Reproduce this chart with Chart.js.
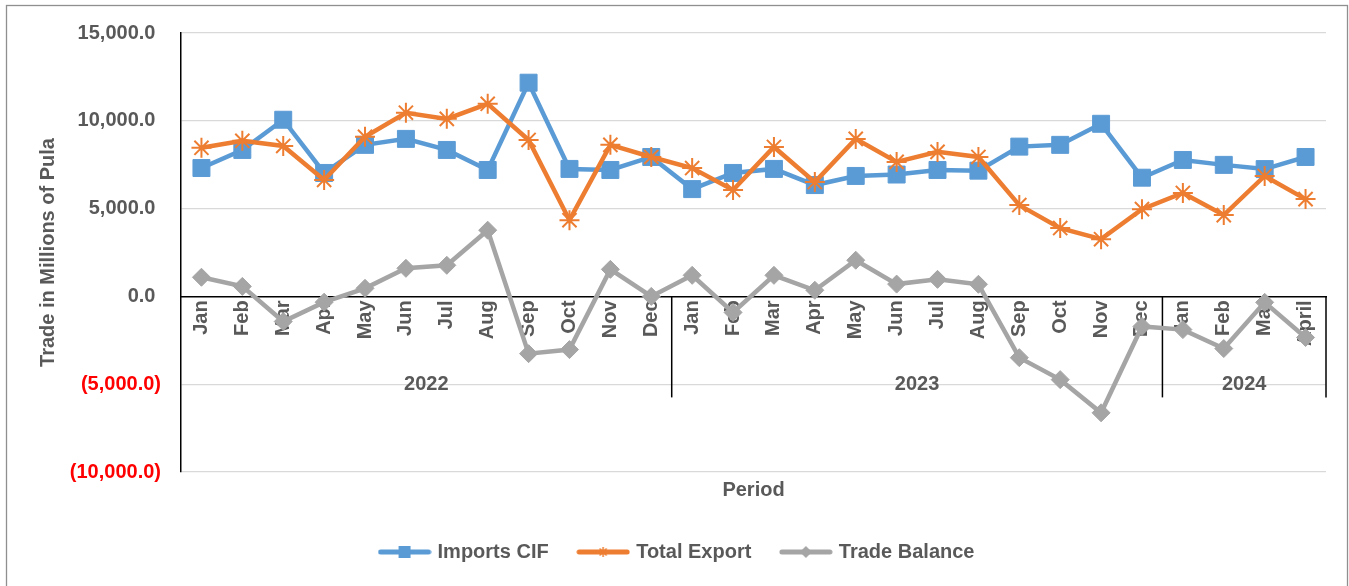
<!DOCTYPE html>
<html>
<head>
<meta charset="utf-8">
<script src="https://cdn.jsdelivr.net/npm/chart.js@4.4.1/dist/chart.umd.min.js"></script>
<style>
  html, body { margin: 0; padding: 0; background: #ffffff; }
  #wrap { width: 1349px; height: 586px; }
</style>
</head>
<body>
<div id="wrap"><canvas id="c" width="1349" height="586"></canvas></div>
<script>
// ---- Data ----
const months = ['Jan','Feb','Mar','Apr','May','Jun','Jul','Aug','Sep','Oct','Nov','Dec',
                'Jan','Feb','Mar','Apr','May','Jun','Jul','Aug','Sep','Oct','Nov','Dec',
                'Jan','Feb','Mar','April'];
const yearLabels = ['2022', '2023', '2024'];
const yearCounts = [12, 12, 4];
const importsCIF = [7310, 8340, 10060, 7030, 8630, 8970, 8340, 7200, 12170, 7260, 7200, 7940,
                    6110, 7030, 7260, 6340, 6860, 6940, 7200, 7160, 8530, 8630, 9830, 6760,
                    7770, 7490, 7250, 7940];
const totalExport = [8460, 8860, 8570, 6630, 9090, 10460, 10110, 10970, 8910, 4340, 8630, 7940,
                     7310, 6060, 8510, 6510, 8970, 7660, 8230, 7940, 5200, 3890, 3260, 4970,
                     5890, 4630, 6860, 5540];
const tradeBalance = [1090, 570, -1430, -330, 460, 1600, 1770, 3770, -3260, -3030, 1540, 0,
                      1200, -910, 1200, 350, 2060, 700, 970, 690, -3490, -4740, -6630, -1710,
                      -1890, -2970, -340, -2340];
const yTicks = [-10000, -5000, 0, 5000, 10000, 15000];

// ---- Styles ----
const FONT = "'Liberation Sans', Arial, sans-serif";
const TXT = '#595959';
const BLUE = '#5B9BD5', ORANGE = '#ED7D31', GREY = '#A5A5A5';

function fmt(v) {
  const s = Math.abs(v).toLocaleString('en-US', {minimumFractionDigits: 1, maximumFractionDigits: 1});
  return v < 0 ? '(' + s + ')' : s + ' ';
}

function legendIcon(color, kind) {
  const cv = document.createElement('canvas');
  cv.width = 54; cv.height = 20;
  const g = cv.getContext('2d');
  g.strokeStyle = color; g.lineWidth = 5; g.lineCap = 'round';
  g.beginPath(); g.moveTo(3, 10); g.lineTo(51, 10); g.stroke();
  g.fillStyle = color;
  if (kind === 'rect') {
    g.fillRect(21, 4, 12, 12);
  } else if (kind === 'star') {
    g.lineWidth = 1.5; g.lineCap = 'butt';
    g.beginPath();
    g.moveTo(27, 5); g.lineTo(27, 15);
    g.moveTo(23.5, 6.5); g.lineTo(30.5, 13.5);
    g.moveTo(30.5, 6.5); g.lineTo(23.5, 13.5);
    g.stroke();
  } else if (kind === 'diamond') {
    g.beginPath(); g.moveTo(27, 4); g.lineTo(33, 10); g.lineTo(27, 16); g.lineTo(21, 10); g.closePath(); g.fill();
  }
  return cv;
}
const legendIcons = [legendIcon(BLUE, 'rect'), legendIcon(ORANGE, 'star'), legendIcon(GREY, 'diamond')];

const framePlugin = {
  id: 'frame',
  beforeDraw(chart) {
    const ctx = chart.ctx;
    ctx.save();
    ctx.fillStyle = '#ffffff';
    ctx.fillRect(0, 0, chart.width, chart.height);
    ctx.strokeStyle = '#8f8f8f';
    ctx.lineWidth = 1.3;
    ctx.strokeRect(6.5, 5.5, 1341, 640);
    ctx.restore();
  }
};

const yearPlugin = {
  id: 'years',
  beforeDatasetsDraw(chart) {
    const xs = chart.scales.x, ys = chart.scales.y, ctx = chart.ctx;
    const y0 = ys.getPixelForValue(0);
    const half = (xs.getPixelForValue(1) - xs.getPixelForValue(0)) / 2;
    ctx.save();
    ctx.strokeStyle = '#000000';
    ctx.lineWidth = 1.5;
    ctx.fillStyle = TXT;
    ctx.font = 'bold 20px ' + FONT;
    ctx.textAlign = 'center';
    ctx.textBaseline = 'middle';
    let idx = 0;
    yearLabels.forEach((lab, i) => {
      const left = xs.getPixelForValue(idx) - half;
      const right = xs.getPixelForValue(idx + yearCounts[i] - 1) + half;
      ctx.beginPath();
      ctx.moveTo(right, y0);
      ctx.lineTo(right, y0 + 101);
      ctx.stroke();
      ctx.fillText(lab, (left + right) / 2, y0 + 88);
      idx += yearCounts[i];
    });
    ctx.restore();
  }
};

new Chart(document.getElementById('c'), {
  type: 'line',
  data: {
    labels: months,
    datasets: [
      {
        label: 'Imports CIF', data: importsCIF, order: 3,
        borderColor: BLUE, backgroundColor: BLUE, borderWidth: 4.5,
        pointStyle: 'rect', pointRadius: 12, pointBackgroundColor: BLUE, pointBorderColor: BLUE,
        pointBorderWidth: 1, tension: 0, fill: false
      },
      {
        label: 'Total Export', data: totalExport, order: 2,
        borderColor: ORANGE, backgroundColor: ORANGE, borderWidth: 4.5,
        pointStyle: 'star', pointRadius: 10, pointBackgroundColor: ORANGE, pointBorderColor: ORANGE,
        pointBorderWidth: 2, tension: 0, fill: false
      },
      {
        label: 'Trade Balance', data: tradeBalance, order: 1,
        borderColor: GREY, backgroundColor: GREY, borderWidth: 4.5,
        pointStyle: 'rectRot', pointRadius: 9, pointBackgroundColor: GREY, pointBorderColor: GREY,
        pointBorderWidth: 1, tension: 0, fill: false
      }
    ]
  },
  options: {
    responsive: false,
    animation: false,
    devicePixelRatio: 1,
    layout: { padding: { left: 30, right: 23, top: 33, bottom: 14 } },
    scales: {
      x: {
        type: 'category',
        position: { y: 0 },
        offset: true,
        grid: { display: false, drawTicks: false },
        border: { display: true, color: '#000000', width: 1.5 },
        ticks: {
          autoSkip: false, minRotation: 90, maxRotation: 90, padding: 4,
          color: TXT, font: { family: FONT, size: 20, weight: 'bold' }
        }
      },
      y: {
        min: -10000, max: 15000,
        afterFit(scale) { scale.width = 151; },
        afterBuildTicks(scale) { scale.ticks = yTicks.map(v => ({ value: v })); },
        grid: {
          drawTicks: false,
          color: (c) => (c.tick && c.tick.value === 0) ? 'rgba(0,0,0,0)' : '#D9D9D9',
          lineWidth: 1.3
        },
        border: { display: true, color: '#000000', width: 1.5 },
        ticks: {
          padding: 20,
          color: (c) => (c.tick && c.tick.value < 0) ? '#FF0000' : TXT,
          font: { family: FONT, size: 20, weight: 'bold' },
          callback: (v) => fmt(v)
        },
        title: {
          display: true, text: 'Trade in Millions of Pula', color: TXT,
          font: { family: FONT, size: 20, weight: 'bold' },
          padding: { top: 6, bottom: 0 }
        }
      }
    },
    plugins: {
      title: {
        display: true, text: 'Period', position: 'bottom', fullSize: false, weight: 500,
        color: TXT, font: { family: FONT, size: 20, weight: 'bold' },
        padding: { top: 6, bottom: 8.5 }
      },
      legend: {
        display: true, position: 'bottom',
        labels: {
          usePointStyle: true, pointStyleWidth: 46, padding: 31.5,
          color: TXT, font: { family: FONT, size: 20, weight: 'bold' },
          sort: (a, b) => a.datasetIndex - b.datasetIndex,
          generateLabels(chart) {
            const items = Chart.defaults.plugins.legend.labels.generateLabels(chart);
            items.forEach(it => { it.pointStyle = legendIcons[it.datasetIndex]; it.fontColor = TXT; });
            return items;
          }
        }
      },
      tooltip: { enabled: false }
    }
  },
  plugins: [framePlugin, yearPlugin]
});
</script>
</body>
</html>
